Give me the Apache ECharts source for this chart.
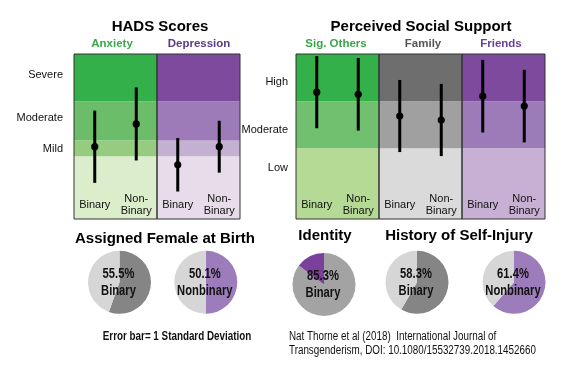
<!DOCTYPE html>
<html><head><meta charset="utf-8">
<script src="https://cdn.jsdelivr.net/npm/echarts@6/dist/echarts.min.js"></script>
<style>html,body{margin:0;padding:0;background:#fff}#c{width:574px;height:380px}</style>
</head><body><div id="c"></div>
<script>
// ---- data ----
const groups = ['Binary', 'Non-\nBinary'];
// HADS (0-21)
const hadsLevels = ['Mild', 'Moderate', 'Severe'];
const hadsLevelPos = [8.9, 12.8, 18.3];
const hadsBands = [0, 8, 10, 15, 21];
const anxietyMean = [9.2, 12.1];
const anxietySD = [4.6, 4.65];
const depressionMean = [6.9, 9.2];
const depressionSD = [3.4, 3.3];
// Perceived social support (0-7)
const supportLevels = ['Low', 'Moderate', 'High'];
const supportLevelPos = [2.16, 3.78, 5.83];
const supportBands = [0, 3, 5, 7];
const sigOthersMean = [5.38, 5.29];
const sigOthersSD = [1.53, 1.54];
const familyMean = [4.37, 4.20];
const familySD = [1.53, 1.53];
const friendsMean = [5.21, 4.79];
const friendsSD = [1.54, 1.54];
// pies (first value = labelled share)
const afabBinary = [55.5, 44.5];
const afabNonbinary = [50.1, 49.9];
const identity = [85.3, 14.7];
const selfInjuryBinary = [58.3, 41.7];
const selfInjuryNonbinary = [61.4, 38.6];

// ---- styles ----
const greenBands4 = ['#dcedcb', '#96cc80', '#6cbd6a', '#33b04a'];
const purpleBands4 = ['#e6dcea', '#c4b0d0', '#9c7bb8', '#7e4a9d'];
const greenBands3 = ['#b5da96', '#70c070', '#33b04a'];
const grayBands3 = ['#dadada', '#a0a0a0', '#6e6e6e'];
const purpleBands3 = ['#c8b0d5', '#9c7bb8', '#7e4a9d'];
const FONT = '"Liberation Sans", Arial, sans-serif';

const panels = [
  {left: 74, max: 21, mean: anxietyMean, sd: anxietySD, bands: hadsBands, colors: greenBands4, labels: hadsLevels, labelPos: hadsLevelPos, labelRight: 63},
  {left: 157, max: 21, mean: depressionMean, sd: depressionSD, bands: hadsBands, colors: purpleBands4},
  {left: 296, max: 7, mean: sigOthersMean, sd: sigOthersSD, bands: supportBands, colors: greenBands3, labels: supportLevels, labelPos: supportLevelPos, labelRight: 288},
  {left: 379, max: 7, mean: familyMean, sd: familySD, bands: supportBands, colors: grayBands3},
  {left: 462, max: 7, mean: friendsMean, sd: friendsSD, bands: supportBands, colors: purpleBands3}
];

const grid = [], xAxis = [], yAxis = [], series = [];
panels.forEach((p, i) => {
  grid.push({left: p.left, top: 54, width: 83, height: 165, show: true, z: 10,
    borderColor: '#333', borderWidth: 1, backgroundColor: 'transparent'});
  xAxis.push({gridIndex: i, type: 'category', data: groups, z: 20,
    axisLine: {show: false}, axisTick: {show: false},
    axisLabel: {inside: true, interval: 0, margin: 14, verticalAlign: 'middle',
      fontSize: 11, lineHeight: 12, color: '#111', fontFamily: FONT}});
  const ya = {gridIndex: i, type: 'value', min: 0, max: p.max, z: 20,
    splitLine: {show: false}, axisLine: {show: false}, axisTick: {show: false},
    axisLabel: {show: false}};
  if (p.labels) {
    ya.axisLabel = {show: true, customValues: p.labelPos, margin: p.left - p.labelRight,
      fontSize: 11, color: '#111', fontFamily: FONT,
      formatter: (v) => p.labels[p.labelPos.indexOf(v)]};
  }
  yAxis.push(ya);
  series.push({
    type: 'custom', xAxisIndex: i, yAxisIndex: i, z: 5,
    data: p.mean.map((m, k) => [k, m, p.sd[k]]),
    renderItem: (params, api) => {
      const c = api.coord([api.value(0), api.value(1)]);
      const lo = api.coord([api.value(0), api.value(1) - api.value(2)]);
      const hi = api.coord([api.value(0), api.value(1) + api.value(2)]);
      return {type: 'group', children: [
        {type: 'line', shape: {x1: lo[0], y1: lo[1], x2: hi[0], y2: hi[1]}, style: {stroke: '#000', lineWidth: 3}},
        {type: 'circle', shape: {cx: c[0], cy: c[1], r: 3.6}, style: {fill: '#000'}}
      ]};
    },
    markArea: {silent: true, z: 1,
      data: p.colors.map((col, k) => [{yAxis: p.bands[k], itemStyle: {color: col}}, {yAxis: p.bands[k + 1]}])}
  });
});

const pieDefs = [
  {cx: 119.5, cy: 282.3, values: afabBinary, colors: ['#858585', '#d6d6d6'], name: 'Binary'},
  {cx: 205.8, cy: 282.3, values: afabNonbinary, colors: ['#9d7cbb', '#d6d6d6'], name: 'Nonbinary'},
  {cx: 324, cy: 284.5, values: identity, colors: ['#a3a3a3', '#7b3f9c'], name: 'Binary'},
  {cx: 417, cy: 282.3, values: selfInjuryBinary, colors: ['#858585', '#d6d6d6'], name: 'Binary'},
  {cx: 514, cy: 282.3, values: selfInjuryNonbinary, colors: ['#9d7cbb', '#d6d6d6'], name: 'Nonbinary'}
];
const graphic = [];
const tx = (text, x, y, opt, sx) => ({type: 'text', x: x, y: y, silent: true, z: 100, scaleX: sx || 1,
  style: Object.assign({text: text, textAlign: 'center', textVerticalAlign: 'middle', fill: '#000',
    font: 'bold 15px ' + FONT}, opt || {})});
pieDefs.forEach(d => {
  series.push({
    type: 'pie', center: [d.cx, d.cy], radius: [0, 31.5], startAngle: 90, clockwise: true,
    silent: true, labelLine: {show: false}, label: {show: false},
    data: d.values.map((v, k) => ({value: v, itemStyle: {color: d.colors[k]}}))
  });
  // centre label built from the pie's own value (condensed)
  graphic.push(tx(d.values[0].toFixed(1) + '%\n' + d.name, d.cx - 1, d.cy + 0.5,
    {font: 'bold 14px ' + FONT, lineHeight: 17, fill: '#111'}, 0.8));
});

const sub = 'bold 11.5px ' + FONT;
graphic.push(
  tx('HADS Scores', 160, 27),
  tx('Anxiety', 112, 44, {fill: '#3aa849', font: sub}),
  tx('Depression', 199, 44, {fill: '#5a3a8a', font: sub}),
  tx('Perceived Social Support', 421, 27),
  tx('Sig. Others', 336, 44, {fill: '#3aa849', font: sub}),
  tx('Family', 423, 44, {fill: '#555555', font: sub}),
  tx('Friends', 501, 44, {fill: '#6a3d9a', font: sub}),
  tx('Assigned Female at Birth', 165, 239),
  tx('Identity', 325, 236),
  tx('History of Self-Injury', 459, 236),
  tx('Error bar= 1 Standard Deviation', 177, 337, {font: 'bold 12px ' + FONT, fill: '#111'}, 0.82),
  tx('Nat Thorne et al (2018)  International Journal of', 289, 337, {textAlign: 'left', font: '12px ' + FONT, fill: '#111'}, 0.82),
  tx('Transgenderism, DOI: 10.1080/15532739.2018.1452660', 289, 351, {textAlign: 'left', font: '12px ' + FONT, fill: '#111'}, 0.82)
);

const chart = echarts.init(document.getElementById('c'), null, {renderer: 'canvas'});
chart.setOption({animation: false, backgroundColor: '#fff', grid, xAxis, yAxis, series, graphic});
</script></body></html>
